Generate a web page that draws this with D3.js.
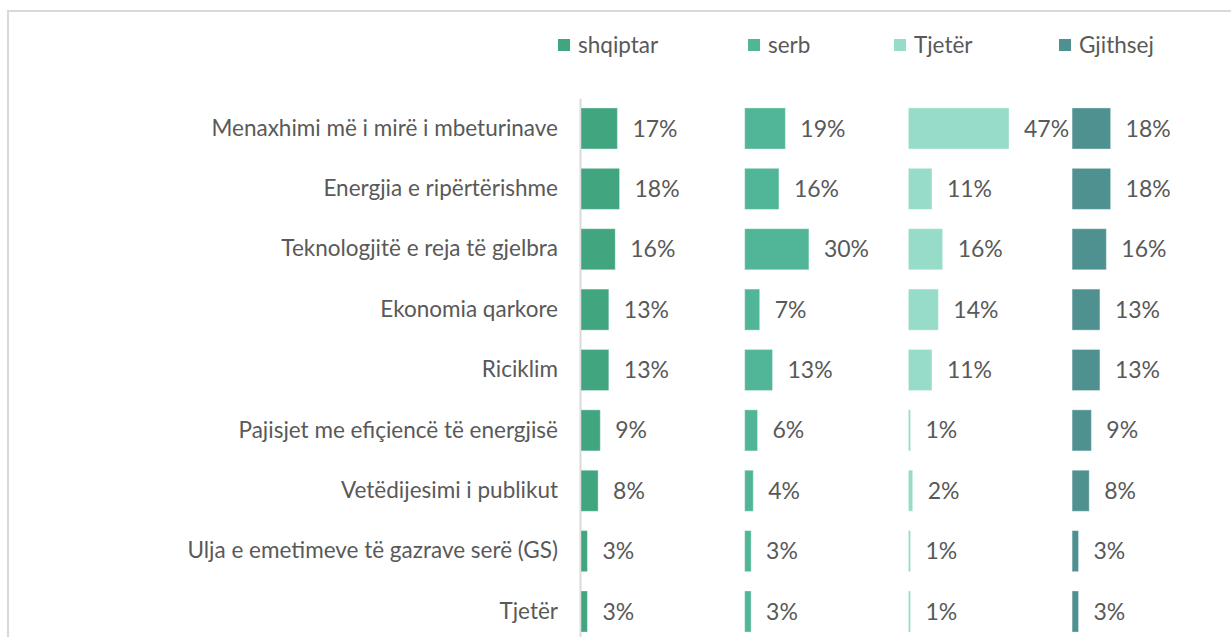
<!DOCTYPE html>
<html>
<head>
<meta charset="utf-8">
<script src="https://cdn.jsdelivr.net/npm/d3@7"></script>
<style>
  html, body { margin: 0; padding: 0; background: #ffffff; }
  svg { display: block; }
  text { font-family: Lato, "Open Sans", sans-serif; fill: #595959; }
</style>
</head>
<body>
<svg id="chart" width="1231" height="637"></svg>
<script>
// Categories (top to bottom)
const categories = [
  "Menaxhimi më i mirë i mbeturinave",
  "Energjia e ripërtërishme",
  "Teknologjitë e reja të gjelbra",
  "Ekonomia qarkore",
  "Riciklim",
  "Pajisjet me efiçiencë të energjisë",
  "Vetëdijesimi i publikut",
  "Ulja e emetimeve të gazrave serë (GS)",
  "Tjetër"
];

// Series names (one panel each)
const seriesNames = ["shqiptar", "serb", "Tjetër", "Gjithsej"];

// Share of respondents per category, in percent
const shqiptar = [17, 18, 16, 13, 13, 9, 8, 3, 3];
const serb     = [19, 16, 30, 7, 13, 6, 4, 3, 3];
const tjeter   = [47, 11, 16, 14, 11, 1, 2, 1, 1];
const gjithsej = [18, 18, 16, 13, 13, 9, 8, 3, 3];

const seriesValues = [shqiptar, serb, tjeter, gjithsej];
const seriesColors = ["#41a67f", "#50b697", "#96dcc8", "#4f9191"];

const svg = d3.select("#chart");

// Frame lines along the top and left edges
svg.append("line").attr("x1", 8).attr("x2", 1231).attr("y1", 11).attr("y2", 11)
  .attr("stroke", "#d9d9d9").attr("stroke-width", 2);
svg.append("line").attr("x1", 8).attr("x2", 8).attr("y1", 10).attr("y2", 637)
  .attr("stroke", "#d9d9d9").attr("stroke-width", 2);

// Layout scales
const y = d3.scaleBand()
  .domain(categories)
  .range([98.3, 641.7])
  .paddingInner(0.32)
  .paddingOuter(0.16);

const panel = d3.scaleBand()
  .domain(seriesNames)
  .range([581, 1235.8])
  .padding(0);

const x = d3.scaleLinear()
  .domain([0, 76.5])
  .range([0, panel.bandwidth()]);

const fontSize = 23;
const categoryFontSize = 22.5;

// Category axis on the left
const yAxis = d3.axisLeft(y).tickSize(0).tickPadding(22);
const gy = svg.append("g")
  .attr("transform", "translate(580,0)")
  .call(yAxis);
gy.select(".domain").attr("stroke", "#d9d9d9").attr("stroke-width", 2);
gy.selectAll(".tick text")
  .style("font-size", categoryFontSize + "px")
  .attr("fill", "#595959")
  .attr("font-family", "Lato, 'Open Sans', sans-serif");

// Panels of bars with value labels
seriesNames.forEach((name, si) => {
  const vals = seriesValues[si];
  const g = svg.append("g")
    .attr("transform", `translate(${panel(name)},0)`);

  g.selectAll("rect")
    .data(vals)
    .join("rect")
    .attr("x", 0)
    .attr("y", (d, i) => y(categories[i]))
    .attr("width", d => x(d))
    .attr("height", y.bandwidth())
    .attr("fill", seriesColors[si])
    .attr("stroke", "#ffffff")
    .attr("stroke-opacity", 0.35)
    .attr("stroke-width", 1);

  g.selectAll("text")
    .data(vals)
    .join("text")
    .attr("x", d => x(d) + 15)
    .attr("y", (d, i) => y(categories[i]) + y.bandwidth() / 2)
    .attr("dy", "0.35em")
    .style("font-size", fontSize + "px")
    .text(d => d + "%");
});

// Legend
const legendX = [558, 748, 894, 1059];
const legend = svg.append("g");
seriesNames.forEach((name, i) => {
  legend.append("rect")
    .attr("x", legendX[i]).attr("y", 39)
    .attr("width", 12).attr("height", 12)
    .attr("fill", seriesColors[i]);
  legend.append("text")
    .attr("x", legendX[i] + 20).attr("y", 45)
    .attr("dy", "0.35em")
    .style("font-size", "22.5px")
    .text(name);
});
</script>
</body>
</html>
